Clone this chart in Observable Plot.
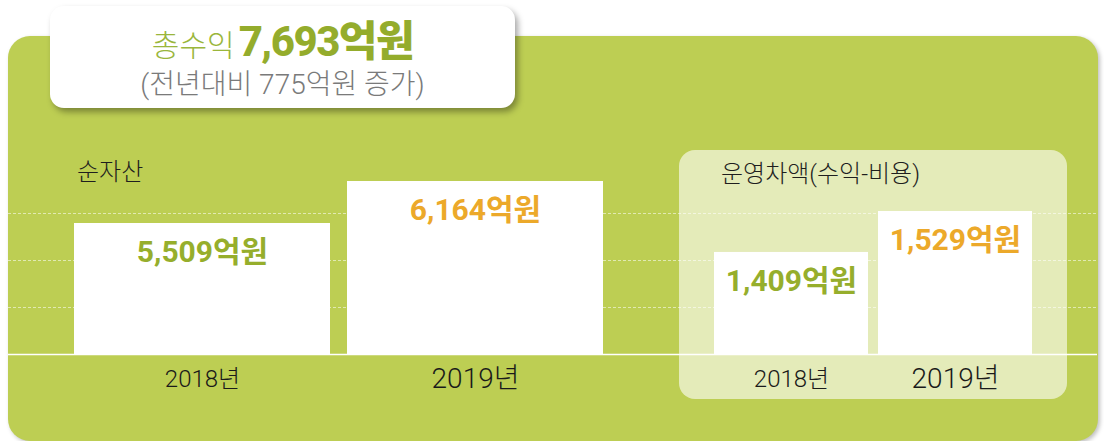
<!DOCTYPE html>
<html lang="ko">
<head>
<meta charset="utf-8">
<script src="https://cdn.jsdelivr.net/npm/d3@7"></script>
<script src="https://cdn.jsdelivr.net/npm/@observablehq/plot@0.6"></script>
<style>
  html, body { margin: 0; padding: 0; background: #ffffff; }
  #wrap { position: relative; width: 1104px; height: 441px; overflow: hidden;
          font-family: Roboto, "Noto Sans CJK KR", sans-serif; }
  .abs { position: absolute; }
  #green { left: 8px; top: 36px; width: 1090px; height: 405px; background: #bdce53;
           border-radius: 22px; box-shadow: 2px 2px 4px rgba(0,0,0,0.25); }
  #lightPanel { left: 679px; top: 150px; width: 388px; height: 249px; background: #e4ebb9;
                border-radius: 16px; }
  #titleBox { left: 50px; top: 6px; width: 465px; height: 102px; background: #ffffff;
              border-radius: 14px; box-shadow: 3px 4px 6px rgba(0,0,0,0.35);
              text-align: center; }
  #title { position: absolute; left: 0; right: 0; top: 13px; line-height: 46px; white-space: nowrap; }
  #title .lead { font-size: 30px; color: #9ab63c; font-weight: 300; }
  #title .big { font-size: 42px; color: #94ac2c; font-weight: 800; letter-spacing: -1.5px; }
  #subtitle { position: absolute; left: 0; right: 0; top: 61px; font-size: 28px; color: #7a7a7a;
              font-weight: 300; line-height: 36px; white-space: nowrap; }
  .panelTitle { font-size: 24px; color: #1e1e1e; font-weight: 300; line-height: 30px; white-space: nowrap; }
  svg.layer { position: absolute; left: 0; top: 0; }
</style>
</head>
<body>
<div id="wrap">
  <div id="green" class="abs"></div>
  <div id="lightPanel" class="abs"></div>
  <div id="titleBox" class="abs">
    <div id="title"></div>
    <div id="subtitle"></div>
  </div>
  <div id="leftTitle" class="abs panelTitle" style="left:77px; top:157px;"></div>
  <div id="rightTitle" class="abs panelTitle" style="left:721px; top:159px;"></div>
</div>
<script>
// ---- data ----
const years = ["2018", "2019"];
const netAssets = [5509, 6164];          // 순자산 (억원)
const operatingMargin = [1409, 1529];    // 운영차액 (억원)
const totalRevenue = 7693;               // 총수익 (억원)
const revenueIncrease = 775;             // 전년대비 증가 (억원)
const gridSteps = [1, 2, 3];             // decorative dashed guide lines
const titleLead = "총수익";
const unit = "억원";
const yearSuffix = "년";
const leftTitleText = "순자산";
const rightTitleText = "운영차액(수익-비용)";

// ---- styles ----
const olive = "#96ae2c";
const orange = "#eca92a";
const fontFamily = 'Roboto, "Noto Sans CJK KR", sans-serif';
const fmt = d3.format(",");

// ---- html text ----
document.getElementById("title").innerHTML =
  `<span class="lead">${titleLead}</span> <span class="big">${fmt(totalRevenue)}${unit}</span>`;
document.getElementById("subtitle").textContent = `(전년대비 ${revenueIncrease}${unit} 증가)`;
document.getElementById("leftTitle").textContent = leftTitleText;
document.getElementById("rightTitle").textContent = rightTitleText;

const leftData = years.map((year, i) => ({year, value: netAssets[i]}));
const rightData = years.map((year, i) => ({year, value: operatingMargin[i]}));

const wrap = document.getElementById("wrap");
const common = {
  width: 1104, height: 441, margin: 0,
  style: {background: "transparent", fontFamily, overflow: "visible"},
  className: "layer"
};

// background guides
const guides = Plot.plot({
  ...common,
  marginLeft: 8, marginRight: 7,
  x: {axis: null},
  y: {domain: [0, 3], range: [354, 213], axis: null},
  marks: [
    Plot.ruleY(gridSteps, {stroke: "#ffffff", strokeOpacity: 0.55, strokeDasharray: "3,2", strokeWidth: 1}),
    Plot.ruleY([0], {stroke: "#ffffff", strokeWidth: 1.5})
  ]
});
guides.classList.add("layer");
wrap.appendChild(guides);

function panel(data, xRange, padInner, yMin, yRange) {
  return Plot.plot({
    ...common,
    x: {type: "band", domain: years, range: xRange, paddingInner: padInner, paddingOuter: 0, axis: null},
    y: {domain: [yMin, d3.max(data, d => d.value)], range: yRange, axis: null},
    color: {type: "ordinal", domain: years, range: [olive, orange]},
    marks: [
      Plot.barY(data, {x: "year", y1: yMin, y2: "value", fill: "#ffffff"}),
      Plot.text(data, {
        x: "year", y: "value", dy: 29,
        text: d => fmt(d.value) + unit,
        fill: "year", fontSize: 30, fontWeight: 700
      }),
      Plot.text(data, {
        x: "year", y: yMin, dy: 25,
        text: d => d.year + yearSuffix,
        fill: "#1a1a1a", fontWeight: 300,
        fontSize: d => d.year === "2019" ? 28 : 24
      })
    ]
  });
}

const left = panel(leftData, [74, 603], 0.0623, 3466, [354, 181]);
left.classList.add("layer");
wrap.appendChild(left);

const right = panel(rightData, [713, 1033], 0.0606, 1110, [354, 211]);
right.classList.add("layer");
wrap.appendChild(right);
</script>
</body>
</html>
